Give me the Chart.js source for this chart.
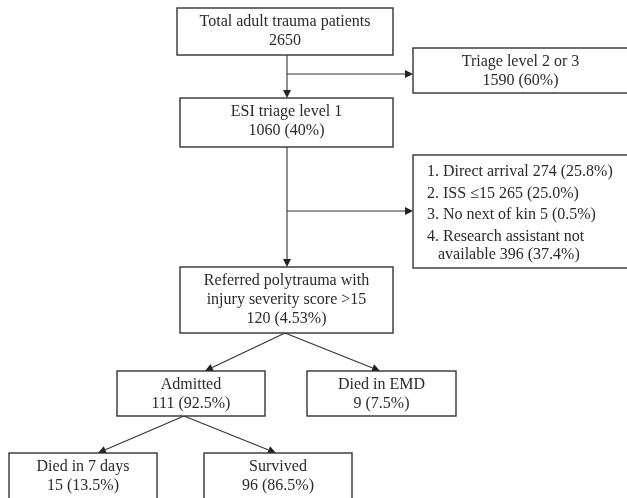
<!DOCTYPE html>
<html>
<head>
<meta charset="utf-8">
<script src="https://cdn.jsdelivr.net/npm/chart.js@4.4.1/dist/chart.umd.min.js"></script>
<style>
  html, body { margin: 0; padding: 0; background: #fff; }
  #wrap { width: 627px; height: 498px; position: relative; }
</style>
</head>
<body>
<div id="wrap"><canvas id="flowChart"></canvas></div>
<script>
// flow stages (text + counts)
const stageNames = [
  'Total adult trauma patients',
  'Triage level 2 or 3',
  'ESI triage level 1',
  'Referred polytrauma with\ninjury severity score >15',
  'Admitted',
  'Died in EMD',
  'Died in 7 days',
  'Survived'
];
const stageCounts = [2650, 1590, 1060, 120, 111, 9, 15, 96];
const stagePcts   = ['', '60%', '40%', '4.53%', '92.5%', '7.5%', '13.5%', '86.5%'];

// exclusions after ESI level 1
const exclReasons = ['Direct arrival', 'ISS \u226415', 'No next of kin', 'Research assistant not\navailable'];
const exclCounts  = [274, 265, 5, 396];
const exclPcts    = ['25.8%', '25.0%', '0.5%', '37.4%'];

// layout (chart units, y grows downward)
const stageBoxes = [
  [177, 8, 393, 55],
  [413, 48, 628, 93],
  [180, 98, 393, 147],
  [180, 267, 393, 333],
  [117, 371, 265, 416],
  [307, 371, 456, 416],
  [9, 453, 157, 520],
  [204, 453, 352, 520]
];
const exclBox = [413, 155, 628, 268];
const connectors = [
  [[287, 55], [287, 98]],
  [[287, 74], [413, 74]],
  [[287, 147], [287, 267]],
  [[287, 211], [413, 211]],
  [[285, 333], [205, 371]],
  [[285, 333], [380, 371]],
  [[184, 416], [98, 453]],
  [[184, 416], [276, 453]]
];

const FONT = '16px "Liberation Serif", "Times New Roman", serif';
const INK = '#2a2a2a';

const flowPlugin = {
  id: 'flow',
  afterDraw(chart) {
    const ctx = chart.ctx;
    const X = v => chart.scales.x.getPixelForValue(v);
    const Y = v => chart.scales.y.getPixelForValue(v);
    ctx.save();

    // connectors with arrowheads
    ctx.strokeStyle = '#333';
    ctx.fillStyle = '#222';
    ctx.lineWidth = 1.1;
    connectors.forEach(([a, b]) => {
      const x0 = X(a[0]), y0 = Y(a[1]), x1 = X(b[0]), y1 = Y(b[1]);
      const ang = Math.atan2(y1 - y0, x1 - x0);
      const len = 8, w = 4;
      const bx = x1 - len * Math.cos(ang), by = y1 - len * Math.sin(ang);
      ctx.beginPath();
      ctx.moveTo(x0, y0);
      ctx.lineTo(bx, by);
      ctx.stroke();
      ctx.beginPath();
      ctx.moveTo(x1, y1);
      ctx.lineTo(bx + w * Math.sin(ang), by - w * Math.cos(ang));
      ctx.lineTo(bx - w * Math.sin(ang), by + w * Math.cos(ang));
      ctx.closePath();
      ctx.fill();
    });

    // boxes
    ctx.lineWidth = 1.4;
    ctx.strokeStyle = '#333';
    ctx.font = FONT;
    ctx.fillStyle = INK;
    ctx.textBaseline = 'middle';
    stageBoxes.forEach((b, i) => {
      const x0 = X(b[0]), y0 = Y(b[1]), x1 = X(b[2]), y1 = Y(b[3]);
      ctx.fillStyle = '#fff';
      ctx.fillRect(x0, y0, x1 - x0, y1 - y0);
      ctx.strokeRect(x0, y0, x1 - x0, y1 - y0);
      ctx.fillStyle = INK;
      ctx.textAlign = 'center';
      const lines = stageNames[i].split('\n');
      lines.push(stageCounts[i] + (stagePcts[i] ? ' (' + stagePcts[i] + ')' : ''));
      const cx = (x0 + x1) / 2;
      lines.forEach((t, k) => ctx.fillText(t, cx, y0 + 14 + k * 19));
    });

    // exclusion list box
    const ex0 = X(exclBox[0]), ey0 = Y(exclBox[1]), ex1 = X(exclBox[2]), ey1 = Y(exclBox[3]);
    ctx.fillStyle = '#fff';
    ctx.fillRect(ex0, ey0, ex1 - ex0, ey1 - ey0);
    ctx.strokeRect(ex0, ey0, ex1 - ex0, ey1 - ey0);
    ctx.fillStyle = INK;
    ctx.textAlign = 'left';
    let y = ey0 + 17;
    exclReasons.forEach((r, i) => {
      const parts = r.split('\n');
      parts[parts.length - 1] += ' ' + exclCounts[i] + ' (' + exclPcts[i] + ')';
      parts.forEach((t, k) => {
        if (k === 0) {
          ctx.fillText((i + 1) + '. ' + t, ex0 + 14, y);
        } else {
          y -= 3;
          ctx.fillText(t, ex0 + 25, y);
        }
        y += 21.5;
      });
    });

    ctx.restore();
  }
};

const ctx = document.getElementById('flowChart').getContext('2d');
const chart = new Chart(ctx, {
  type: 'scatter',
  data: {
    datasets: [{
      label: 'stages',
      data: stageBoxes.map(b => ({ x: (b[0] + b[2]) / 2, y: b[1] })),
      pointRadius: 0
    }]
  },
  options: {
    responsive: true,
    maintainAspectRatio: false,
    animation: false,
    layout: { padding: 0 },
    plugins: { legend: { display: false }, tooltip: { enabled: false } },
    scales: {
      x: { type: 'linear', min: 0, max: 627, display: false },
      y: { type: 'linear', min: 0, max: 498, reverse: true, display: false }
    }
  },
  plugins: [flowPlugin]
});
</script>
</body>
</html>
